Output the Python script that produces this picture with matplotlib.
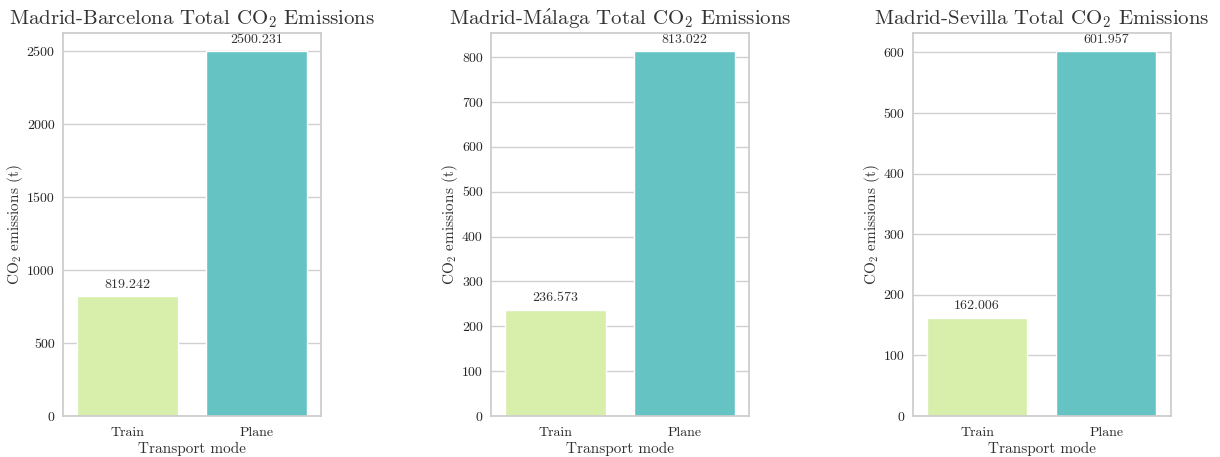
import matplotlib
matplotlib.use("Agg")
import matplotlib.pyplot as plt
import seaborn as sns

sns.set_theme(style="whitegrid")
plt.rcParams["font.family"] = ["cmr10", "DejaVu Serif"]
plt.rcParams["mathtext.fontset"] = "cm"
plt.rcParams["axes.formatter.use_mathtext"] = True

modes = ["Train", "Plane"]
routes = ["Madrid-Barcelona", r"Madrid-M$\mathrm{\acute{a}}$laga", "Madrid-Sevilla"]
barcelona = [819.242, 2500.231]
malaga = [236.573, 813.022]
sevilla = [162.006, 601.957]
route_values = [barcelona, malaga, sevilla]
yticks = [
    [0, 500, 1000, 1500, 2000, 2500],
    [0, 100, 200, 300, 400, 500, 600, 700, 800],
    [0, 100, 200, 300, 400, 500, 600],
]
colors = ["#d8eeab", "#66c3c3"]

fig = plt.figure(figsize=(12.2, 4.57), dpi=100)
lefts = [0.0516, 0.4025, 0.748]
for left, route, values, ticks in zip(lefts, routes, route_values, yticks):
    ax = fig.add_axes([left, 0.0897, 0.2115, 0.838])
    ax.bar(range(len(modes)), values, width=0.78, color=colors)
    ax.set_xlim(-0.5, 1.5)
    ax.set_ylim(0, max(values) * 1.05)
    ax.set_xticks(range(len(modes)))
    ax.set_xticklabels(modes, fontsize=10)
    ax.set_yticks(ticks)
    ax.set_yticklabels([str(t) for t in ticks], fontsize=10)
    ax.grid(axis="x", visible=False)
    ax.grid(axis="y", color="#d0d0d0", linewidth=1.0)
    for spine in ax.spines.values():
        spine.set_color("#cccccc")
    ax.tick_params(axis="y", length=0, pad=6)
    ax.tick_params(axis="x", length=0, pad=8)
    for x, v in zip(range(len(modes)), values):
        ax.annotate(f"{v:.3f}", (x, v), xytext=(0, 4), textcoords="offset points",
                    ha="center", va="bottom", fontsize=10, color="#333333")
    ax.set_title(f"{route} Total CO$_2$ Emissions", fontsize=15, color="#333333", pad=6)
    ax.set_xlabel("Transport mode", fontsize=11, color="#333333", labelpad=2)
    ax.set_ylabel("CO$_2$ emissions (t)", fontsize=11, color="#333333", labelpad=1)

fig.savefig("out.png", dpi=100)
